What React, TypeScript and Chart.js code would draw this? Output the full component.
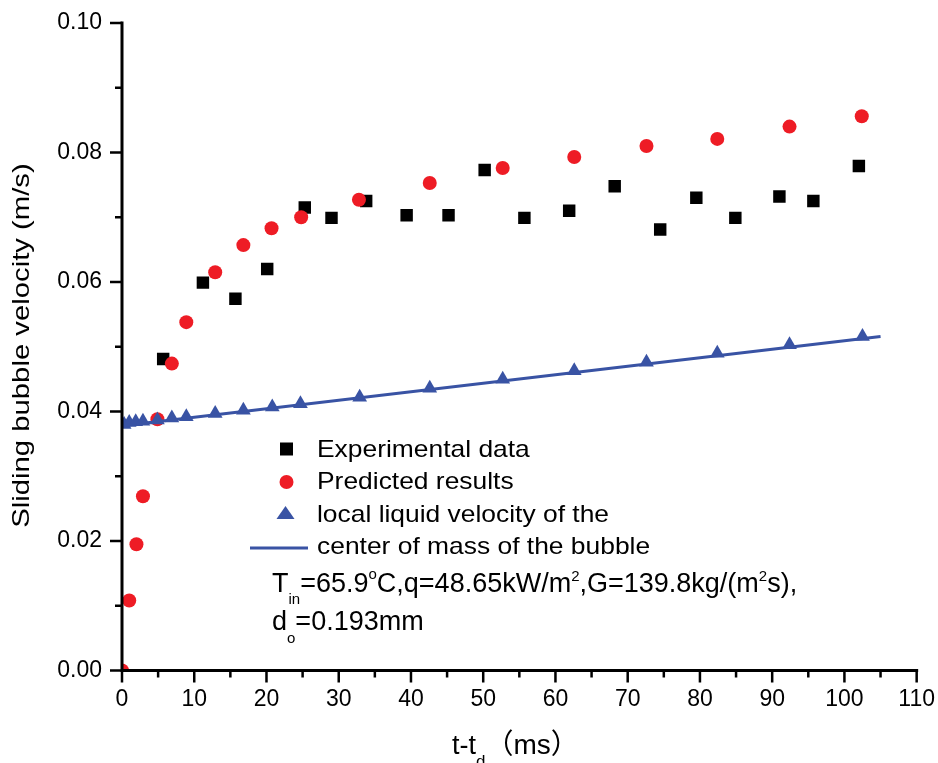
import React, { useEffect, useRef } from "react";
import { Chart, registerables } from "chart.js";

Chart.register(...registerables);

// ---- data ----
const expX = [5.7, 11.2, 15.7, 20.1, 25.3, 29.0, 33.8, 39.4, 45.2, 50.2, 55.7, 61.9, 68.2, 74.5, 79.5, 84.9, 91.0, 95.7, 102.0];
const expY = [0.0481, 0.0599, 0.0574, 0.062, 0.0715, 0.0699, 0.0725, 0.0703, 0.0703, 0.0773, 0.0699, 0.071, 0.0748, 0.0681, 0.073, 0.0699, 0.0732, 0.0725, 0.0779];

const predX = [0, 1.0, 2.0, 2.9, 4.9, 6.9, 8.9, 12.9, 16.8, 20.7, 24.8, 32.8, 42.6, 52.7, 62.6, 72.6, 82.4, 92.4, 102.4];
const predY = [0.0, 0.0108, 0.0195, 0.0269, 0.0388, 0.0474, 0.0538, 0.0615, 0.0657, 0.0683, 0.07, 0.0727, 0.0753, 0.0776, 0.0793, 0.081, 0.0821, 0.084, 0.0856];

const liqX = [0.3, 1.0, 1.9, 2.9, 4.9, 6.9, 8.9, 12.9, 16.8, 20.8, 24.7, 32.9, 42.6, 52.7, 62.6, 72.6, 82.4, 92.4, 102.5];
const liqY = [0.038, 0.0383, 0.0384, 0.0385, 0.0387, 0.039, 0.0392, 0.0397, 0.0402, 0.0407, 0.0412, 0.0422, 0.0436, 0.045, 0.0463, 0.0476, 0.049, 0.0503, 0.0516];

const lineX = [0, 105.0];
const lineY = [0.0378, 0.0516];

const xMin = 0, xMax = 110, xStep = 5, xLabelEvery = 10;
const yMin = 0, yMax = 0.1, yStep = 0.01;

const legendLabels = [
  "Experimental data",
  "Predicted results",
  "local liquid velocity of the",
  "center of mass of the bubble",
];
const yTitle = "Sliding bubble velocity (m/s)";

const FONT = '"Liberation Sans", Arial, "Noto Sans CJK SC", sans-serif';
const RED = "#EE1C25";
const BLUE = "#3953A4";

type Run = { t: string; size: number; dy: number };

function drawRuns(ctx: CanvasRenderingContext2D, x: number, y: number, runs: Run[], sx: number) {
  ctx.save();
  ctx.translate(x, y);
  ctx.scale(sx, 1);
  ctx.textAlign = "left";
  ctx.textBaseline = "alphabetic";
  let cx = 0;
  for (const r of runs) {
    ctx.font = `${r.size}px ${FONT}`;
    ctx.fillText(r.t, cx, r.dy);
    cx += ctx.measureText(r.t).width;
  }
  ctx.restore();
}

const overlayPlugin = {
  id: "overlay",
  afterDatasetsDraw(chart: any) {
    const ctx: CanvasRenderingContext2D = chart.ctx;
    const { left, right, top, bottom } = chart.chartArea;
    const xs = chart.scales.x;
    const ys = chart.scales.y;
    ctx.save();
    ctx.strokeStyle = "#000";
    ctx.fillStyle = "#000";
    // ticks
    ctx.lineWidth = 2.5;
    ctx.beginPath();
    for (const t of xs.ticks) {
      const px = xs.getPixelForValue(t.value);
      const major = Math.round(t.value) % xLabelEvery === 0;
      ctx.moveTo(px, bottom);
      ctx.lineTo(px, bottom + (major ? 12 : 7));
    }
    for (const t of ys.ticks) {
      const py = ys.getPixelForValue(t.value);
      const major = Math.round(t.value * 100) % 2 === 0;
      ctx.moveTo(left, py);
      ctx.lineTo(left - (major ? 12 : 7), py);
    }
    ctx.stroke();
    // axis lines
    ctx.lineWidth = 3;
    ctx.lineCap = "square";
    ctx.beginPath();
    ctx.moveTo(left, top);
    ctx.lineTo(left, bottom);
    ctx.lineTo(right, bottom);
    ctx.stroke();

    // y title
    ctx.save();
    ctx.translate(29, 345.5);
    ctx.rotate(-Math.PI / 2);
    ctx.scale(1.22, 1);
    ctx.font = `24px ${FONT}`;
    ctx.textAlign = "center";
    ctx.textBaseline = "alphabetic";
    ctx.fillText(yTitle, 0, 0);
    ctx.restore();

    // x title
    drawRuns(ctx, 452, 754, [
      { t: "t-t", size: 27, dy: 0 },
      { t: "d", size: 17, dy: 13 },
      { t: "（ms）", size: 28, dy: 0 },
    ], 1);

    // legend markers
    ctx.fillStyle = "#000";
    ctx.fillRect(280, 442.5, 13, 13);
    ctx.fillStyle = RED;
    ctx.beginPath();
    ctx.arc(286.5, 482, 7, 0, Math.PI * 2);
    ctx.fill();
    ctx.fillStyle = BLUE;
    ctx.beginPath();
    ctx.moveTo(285.5, 506);
    ctx.lineTo(294.5, 519);
    ctx.lineTo(276.5, 519);
    ctx.closePath();
    ctx.fill();
    ctx.strokeStyle = BLUE;
    ctx.lineWidth = 3;
    ctx.lineCap = "butt";
    ctx.beginPath();
    ctx.moveTo(250, 548);
    ctx.lineTo(308, 548);
    ctx.stroke();

    // legend text
    ctx.fillStyle = "#000";
    const baselines = [457, 489, 521.5, 554];
    legendLabels.forEach((lab, i) => {
      drawRuns(ctx, 317, baselines[i], [{ t: lab, size: 24, dy: 0 }], 1.1);
    });

    // annotation
    drawRuns(ctx, 272, 592, [
      { t: "T", size: 27, dy: 0 },
      { t: "in", size: 15, dy: 12 },
      { t: "=65.9", size: 27, dy: 0 },
      { t: "o", size: 15, dy: -13 },
      { t: "C,q=48.65kW/m", size: 27, dy: 0 },
      { t: "2", size: 15, dy: -11 },
      { t: ",G=139.8kg/(m", size: 27, dy: 0 },
      { t: "2", size: 15, dy: -11 },
      { t: "s),", size: 27, dy: 0 },
    ], 1);
    drawRuns(ctx, 272, 630, [
      { t: "d", size: 27, dy: 0 },
      { t: "o", size: 15, dy: 13 },
      { t: "=0.193mm", size: 27, dy: 0 },
    ], 1);
    ctx.restore();
  },
};

function pts(xs: number[], ys: number[]) {
  return xs.map((x, i) => ({ x, y: ys[i] }));
}

export default function App() {
  const ref = useRef<HTMLCanvasElement | null>(null);
  useEffect(() => {
    if (!ref.current) return;
    const chart = new Chart(ref.current, {
      type: "scatter",
      data: {
        datasets: [
          {
            label: legendLabels[2],
            data: pts(liqX, liqY),
            pointStyle: "triangle",
            pointRadius: 8.5,
            backgroundColor: BLUE,
            borderColor: BLUE,
            borderWidth: 0,
            order: 0,
          },
          {
            label: legendLabels[3],
            data: pts(lineX, lineY),
            showLine: true,
            pointRadius: 0,
            borderColor: BLUE,
            borderWidth: 3,
            fill: false,
            order: 1,
          },
          {
            label: legendLabels[1],
            data: pts(predX, predY),
            pointStyle: "circle",
            pointRadius: 7,
            backgroundColor: RED,
            borderColor: RED,
            borderWidth: 0,
            clip: 0,
            order: 2,
          },
          {
            label: legendLabels[0],
            data: pts(expX, expY),
            pointStyle: "rect",
            pointRadius: 8.8,
            backgroundColor: "#000",
            borderColor: "#000",
            borderWidth: 0,
            order: 3,
          },
        ] as any,
      },
      options: {
        responsive: false,
        animation: false,
        events: [],
        layout: { padding: { top: 23, right: 19, left: 0, bottom: 0 } },
        plugins: { legend: { display: false }, tooltip: { enabled: false } },
        scales: {
          x: {
            type: "linear",
            min: xMin,
            max: xMax,
            afterFit: (s: any) => { s.height = 92.5; },
            border: { display: false },
            grid: { display: true, drawOnChartArea: false, drawTicks: true, tickLength: 12, tickColor: "rgba(0,0,0,0)" },
            ticks: {
              stepSize: xStep,
              autoSkip: false,
              maxRotation: 0,
              padding: 3,
              color: "#000",
              font: { family: FONT, size: 23 },
              callback: (v: any) => (Math.round(v) % xLabelEvery === 0 ? String(Math.round(v)) : ""),
            },
          },
          y: {
            type: "linear",
            min: yMin,
            max: yMax,
            afterFit: (s: any) => { s.width = 122; },
            border: { display: false },
            grid: { display: true, drawOnChartArea: false, drawTicks: true, tickLength: 12, tickColor: "rgba(0,0,0,0)" },
            ticks: {
              stepSize: yStep,
              autoSkip: false,
              padding: 8,
              color: "#000",
              font: { family: FONT, size: 23 },
              callback: (v: any) => (Math.round(v * 100) % 2 === 0 ? Number(v).toFixed(2) : ""),
            },
          },
        },
      },
      plugins: [overlayPlugin],
    });
    return () => chart.destroy();
  }, []);
  return (
    <div style={{ position: "absolute", left: 0, top: 0, width: 938, height: 763, background: "#fff" }}>
      <canvas ref={ref} width={938} height={763} style={{ display: "block", width: 938, height: 763 }} />
    </div>
  );
}
